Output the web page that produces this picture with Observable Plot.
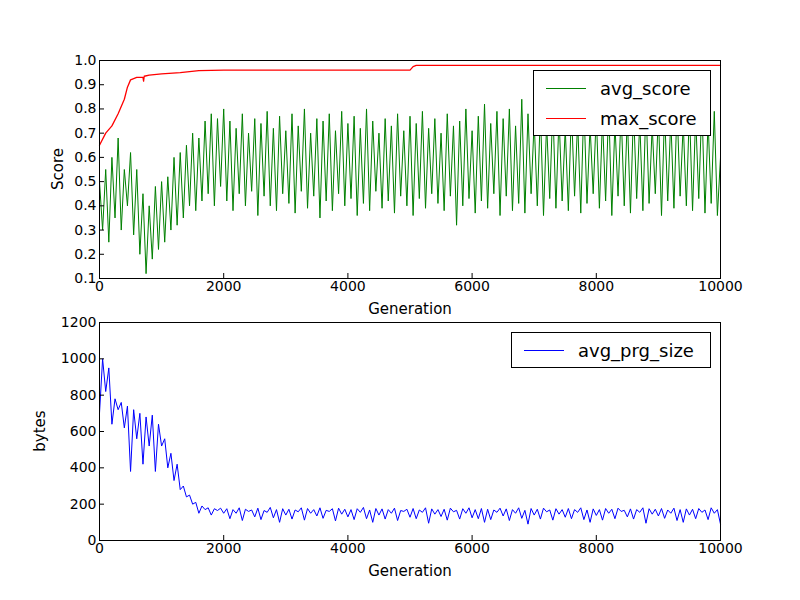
<!DOCTYPE html>
<html><head><meta charset="utf-8">
<script src="https://cdn.jsdelivr.net/npm/d3@7"></script>
<script src="https://cdn.jsdelivr.net/npm/@observablehq/plot@0.6"></script>
<style>
body{margin:0;background:#fff;font-family:"DejaVu Sans",sans-serif}
#wrap{position:relative;width:800px;height:600px}
.p{position:absolute;left:0}
.leg{position:absolute;background:#fff;border:1px solid #000;font-size:18px;box-sizing:border-box}
.leg div{display:flex;align-items:center;height:30px}
.leg span.l{display:inline-block;width:40px;height:0;border-top:1.5px solid;margin:0 14px 0 12px}
</style></head><body>
<div id="wrap"></div>
<script>
const step = 50;
const avgScore = [
.50,.30,.55,.25,.60,.35,.68,.30,.55,.40,.62,
.28,.55,.20,.45,.12,.40,.18,.48,.22,.50,
.25,.52,.30,.60,.32,.62,.35,.65,.40,.70,
.38,.68,.42,.75,.45,.78,.40,.76,.48,.80,
.42,.75,.38,.72,.45,.78,.40,.70,.46,.76,
.36,.74,.44,.79,.40,.72,.38,.77,.45,.71,
.41,.78,.37,.73,.46,.80,.39,.70,.44,.76,
.35,.75,.42,.78,.38,.71,.45,.79,.40,.74,
.43,.77,.36,.72,.41,.80,.38,.75,.46,.70,
.39,.76,.42,.73,.37,.78,.44,.71,.40,.77,
.36,.74,.43,.79,.39,.72,.45,.76,.41,.70,
.38,.78,.44,.73,.32,.75,.40,.80,.43,.71,
.37,.77,.42,.82,.39,.74,.45,.79,.36,.76,
.44,.80,.38,.73,.41,.84,.37,.78,.45,.75,
.40,.79,.36,.74,.43,.81,.39,.77,.42,.72,
.38,.80,.44,.75,.37,.82,.41,.73,.45,.78,
.39,.76,.42,.81,.36,.74,.44,.79,.40,.77,
.37,.80,.43,.75,.38,.82,.41,.73,.45,.78,
.36,.79,.42,.76,.39,.81,.44,.74,.40,.80,
.38,.77,.43,.82,.37,.75,.41,.79,.36,.60];
const maxGen = [0,100,200,300,400,450,500,600,700,710,720,800,1000,1300,1600,2000,5000,5050,5100,10000];
const maxScore = [0.65,0.70,0.73,0.78,0.84,0.89,0.92,0.93,0.93,0.915,0.935,0.94,0.945,0.95,0.958,0.96,0.96,0.975,0.98,0.98];
const prgSize = [
700,1000,820,950,640,780,720,760,620,740,380,
720,560,700,420,680,520,690,380,640,520,
560,400,480,330,420,280,300,240,250,200,
210,150,190,170,180,140,175,165,178,150,
175,120,170,150,180,110,172,160,168,130,
178,115,165,155,182,125,170,100,175,140,
172,118,168,158,180,112,176,150,170,135,
180,122,166,160,175,108,178,145,172,130,
170,115,175,155,182,120,168,100,176,140,
174,118,170,150,178,110,165,160,172,128,
176,120,168,155,180,95,174,145,170,132,
172,112,178,158,166,118,175,150,180,125,
170,120,176,100,172,115,168,155,178,135,
174,110,170,150,180,122,166,90,176,140,
172,118,178,158,168,112,175,145,170,128,
176,120,170,155,180,115,168,100,174,138,
170,112,176,150,172,120,178,160,166,130,
174,118,170,155,180,95,175,145,172,135,
176,122,168,150,178,110,170,100,174,140,
172,120,176,155,168,115,180,150,170,90];
const gens = avgScore.map((_, i) => i * step);
const wrap = document.getElementById("wrap");
const fmt = d3.format("d");
const common = {width: 800, height: 300, marginLeft: 99, marginRight: 80,
  style: {fontSize: "14px", fontFamily: "DejaVu Sans", color: "#000", background: "none"}};
const topPlot = Plot.plot({...common, marginTop: 60, marginBottom: 22,
  x: {domain: [0, 10000], label: null},
  y: {domain: [0.1, 1.0], label: null},
  marks: [
    Plot.line(gens, {x: d => d, y: (d, i) => avgScore[i], stroke: "#008000", strokeWidth: 1}),
    Plot.line(maxGen, {x: d => d, y: (d, i) => maxScore[i], stroke: "red", strokeWidth: 1.3}),
    Plot.axisX({ticks: d3.range(0, 10001, 2000), tickFormat: fmt, tickSize: -5, tickPadding: 8, label: null}),
    Plot.axisY({ticks: d3.range(1, 11).map(d => d / 10), tickFormat: d3.format(".1f"), tickSize: -5, tickPadding: 8, label: null}),
    Plot.frame({stroke: "#000"})
  ]});
topPlot.classList.add("p"); topPlot.style.top = "0px";
const botPlot = Plot.plot({...common, marginTop: 22, marginBottom: 60,
  x: {domain: [0, 10000], label: null},
  y: {domain: [0, 1200], label: null},
  marks: [
    Plot.line(gens, {x: d => d, y: (d, i) => prgSize[i], stroke: "blue", strokeWidth: 1}),
    Plot.axisX({ticks: d3.range(0, 10001, 2000), tickFormat: fmt, tickSize: -5, tickPadding: 8, label: null}),
    Plot.axisY({ticks: d3.range(0, 1201, 200), tickFormat: fmt, tickSize: -5, tickPadding: 8, label: null}),
    Plot.frame({stroke: "#000"})
  ]});
botPlot.classList.add("p"); botPlot.style.top = "300px";
wrap.append(topPlot, botPlot);
function txt(s, x, y, rot) {
  const d = document.createElement("div");
  d.textContent = s;
  d.style.cssText = `position:absolute;left:${x}px;top:${y}px;font-size:15px;transform:translate(-50%,-50%)${rot ? " rotate(-90deg)" : ""};white-space:nowrap`;
  wrap.append(d);
}
txt("Generation", 410, 309); txt("Generation", 410, 571);
txt("Score", 58, 169, true); txt("bytes", 40, 431, true);
function legend(x, y, w, items) {
  const d = document.createElement("div");
  d.className = "leg";
  d.style.cssText += `left:${x}px;top:${y}px;width:${w}px;padding:2px 0`;
  for (const [name, c] of items) {
    const r = document.createElement("div");
    r.innerHTML = `<span class="l" style="border-color:${c}"></span>${name}`;
    d.append(r);
  }
  wrap.append(d);
}
legend(533, 70, 178, [["avg_score", "#008000"], ["max_score", "red"]]);
legend(511, 332, 200, [["avg_prg_size", "blue"]]);
</script></body></html>
